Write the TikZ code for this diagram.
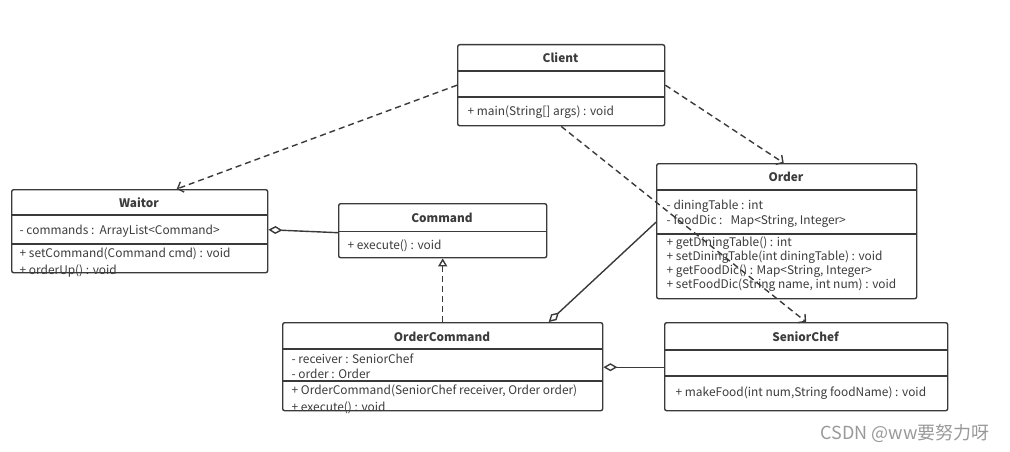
\documentclass[tikz,border=0pt]{standalone}
\usepackage{fontspec}
\setmainfont{Noto Sans CJK SC}
\usetikzlibrary{arrows.meta}
\definecolor{umlline}{HTML}{3A3A3A}
\definecolor{umltext}{HTML}{3C3C3C}

\begin{document}
\begin{tikzpicture}[x=1pt, y=-1pt, line width=1.4pt, draw=umlline,
    box/.style = {draw=umlline, rounded corners=2pt, anchor=north west, inner sep=0pt},
    sep/.style = {draw=umlline, line width=1.2pt},
    title/.style = {font=\fontsize{11.8}{14}\selectfont\bfseries, text=umltext, inner sep=0pt},
    member/.style = {font=\fontsize{11.9}{14}\selectfont, text=umltext, anchor=west, inner sep=0pt},
    dep/.style = {draw=umlline, dashed, dash pattern=on 6pt off 4pt, -{Straight Barb[length=5pt, width=11pt]}},
    real/.style = {draw=umlline, dashed, dash pattern=on 6pt off 4pt, -{Triangle[open, length=8pt, width=9pt]}},
    aggr/.style = {draw=umlline, {Diamond[open, length=14pt, width=8pt]}-}]
    \useasboundingbox (0,0) rectangle (1010,452);

    \node[box, minimum width=207pt, minimum height=81pt] (client) at (457,44) {};
    \node[title] (clientT) at (560.5,58) {Client};
    \draw[sep] ([yshift=-27pt]client.north west) -- ([yshift=-27pt]client.north east);
    \draw[sep] ([yshift=-53pt]client.north west) -- ([yshift=-53pt]client.north east);
    \node[member] (clientM1) at (467,112) {+ main(String[] args) : void};

    \node[member] (waiterM2) at (19,270.5) {+ orderUp() : void};
    \node[box, minimum width=256pt, minimum height=83pt] (waiter) at (11,189) {};
    \node[title] (waiterT) at (139,203) {Waitor};
    \draw[sep] ([yshift=-26pt]waiter.north west) -- ([yshift=-26pt]waiter.north east);
    \draw[sep] ([yshift=-55pt]waiter.north west) -- ([yshift=-55pt]waiter.north east);
    \node[member] (waiterA1) at (19,231.5) {- commands :\ \ ArrayList<Command>};
    \node[member] (waiterM1) at (19,253.5) {+ setCommand(Command cmd) : void};

    \node[box, minimum width=208pt, minimum height=54pt] (command) at (338,203) {};
    \node[title] (commandT) at (442,218) {Command};
    \draw[sep] ([yshift=-28.5pt]command.north west) -- ([yshift=-28.5pt]command.north east);
    \node[member] (commandM1) at (347,245.5) {+ execute() : void};

    \node[box, minimum width=260pt, minimum height=135pt] (order) at (656,163) {};
    \node[title] (orderT) at (786,177) {Order};
    \draw[sep] ([yshift=-27pt]order.north west) -- ([yshift=-27pt]order.north east);
    \draw[sep] ([yshift=-71pt]order.north west) -- ([yshift=-71pt]order.north east);
    \node[member] (orderA1) at (666,206.5) {- diningTable : int};
    \node[member] (orderA2) at (666,221) {- foodDic :\ \ \ Map<String, Integer>};
    \node[member] (orderM1) at (666,243) {+ getDiningTable() : int};
    \node[member] (orderM2) at (666,257) {+ setDiningTable(int diningTable) : void};
    \node[member] (orderM3) at (666,271) {+ getFoodDic() : Map<String, Integer>};
    \node[member] (orderM4) at (666,285) {+ setFoodDic(String name, int num) : void};

    \node[member] (ordercmdM2) at (291,407.5) {+ execute() : void};
    \node[box, minimum width=320pt, minimum height=88pt] (ordercmd) at (282,322) {};
    \node[title] (ordercmdT) at (442,337) {OrderCommand};
    \draw[sep] ([yshift=-27pt]ordercmd.north west) -- ([yshift=-27pt]ordercmd.north east);
    \draw[sep] ([yshift=-59pt]ordercmd.north west) -- ([yshift=-59pt]ordercmd.north east);
    \node[member] (ordercmdA1) at (291,359) {- receiver : SeniorChef};
    \node[member] (ordercmdA2) at (291,374) {- order : Order};
    \node[member] (ordercmdM1) at (291,391) {+ OrderCommand(SeniorChef receiver, Order order)};

    \node[box, minimum width=283pt, minimum height=88pt] (chef) at (664,322) {};
    \node[title] (chefT) at (805.5,337) {SeniorChef};
    \draw[sep] ([yshift=-28pt]chef.north west) -- ([yshift=-28pt]chef.north east);
    \draw[sep] ([yshift=-54pt]chef.north west) -- ([yshift=-54pt]chef.north east);
    \node[member] (chefM1) at (675,393) {+ makeFood(int num,String foodName) : void};

    \node[font=\fontsize{18}{20}\selectfont, text=black!40, inner sep=0pt] (mark) at (905,433) {CSDN @ww要努力呀};

    \draw[dep] (client.west) -- ([xshift=37pt]waiter.north);
    \draw[dep] (client.east) -- ([xshift=-3pt]order.north);
    \draw[dep] (client.south) -- (chef.north);
    \draw[aggr] ([yshift=1.5pt]waiter.east) -- ([yshift=-2pt]command.west);
    \draw[real] (ordercmd.north) -- (command.south);
    \draw[aggr] ([xshift=106pt]ordercmd.north) -- ([yshift=9pt]order.west);
    \draw[aggr] ([yshift=-0.5pt]ordercmd.east) -- ([yshift=-0.5pt]chef.west);
\end{tikzpicture}
\end{document}
